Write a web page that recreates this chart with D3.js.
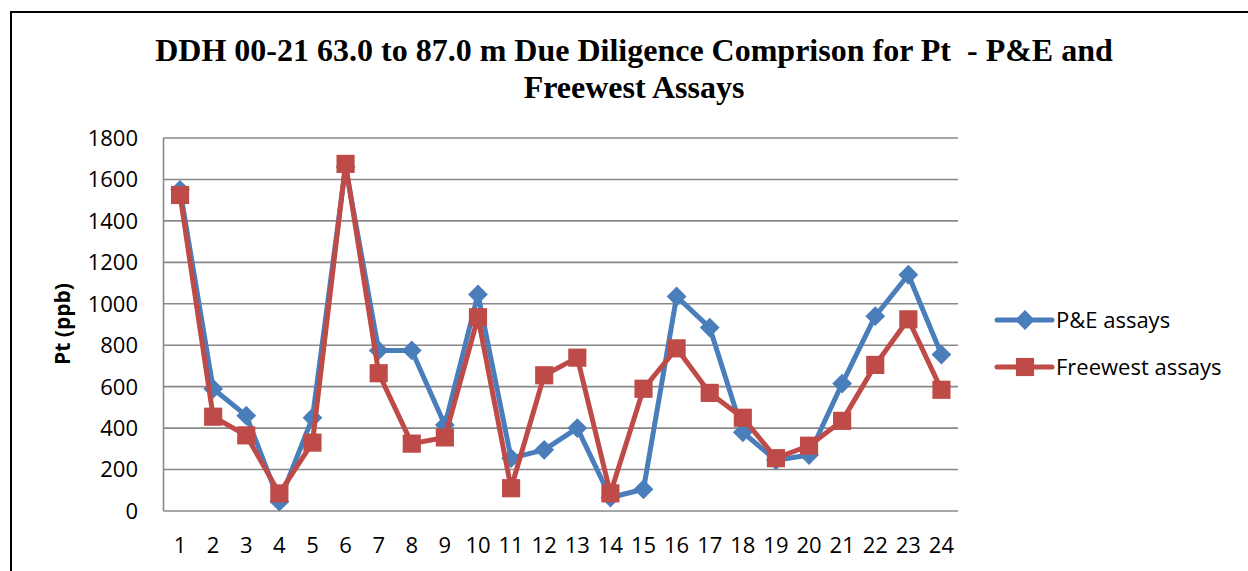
<!DOCTYPE html>
<html>
<head>
<meta charset="utf-8">
<script src="https://cdn.jsdelivr.net/npm/d3@7"></script>
<style>
  body { margin: 0; background: #fff; }
  .title { font-family: "Liberation Serif", "Times New Roman", serif; font-weight: bold; font-size: 32px; fill: #000; white-space: pre; }
  .tick-label { font-family: "Open Sans", sans-serif; font-size: 22px; fill: #000; }
  .legend-label { font-family: "Open Sans", sans-serif; font-size: 22px; fill: #000; }
  .axis-title { font-family: "Open Sans", sans-serif; font-weight: bold; font-size: 21px; fill: #000; }
</style>
</head>
<body>
<script>
// sample numbers along the hole
const samples = d3.range(1, 25);
const yTicks = [0, 200, 400, 600, 800, 1000, 1200, 1400, 1600, 1800];

// Pt values (ppb)
const peAssays = [1550, 590, 460, 45, 450, 1660, 775, 775, 415, 1045, 255, 295,
                  400, 65, 105, 1035, 885, 380, 245, 270, 615, 940, 1140, 755];
const freewestAssays = [1525, 455, 365, 85, 330, 1675, 665, 325, 355, 935, 110, 655,
                        740, 85, 590, 785, 570, 450, 255, 315, 435, 705, 925, 585];

const seriesNames = ["P&E assays", "Freewest assays"];
const titleLines = ["DDH 00-21 63.0 to 87.0 m Due Diligence Comprison for Pt  - P&E and",
                    "Freewest Assays"];

const width = 1248, height = 571;
const plot = { left: 163.5, right: 958, top: 138, bottom: 511 };

const svg = d3.select("body").append("svg")
  .attr("width", width)
  .attr("height", height);

// outer chart frame (only top and left edges are visible in the picture)
svg.append("path")
  .attr("d", `M11,${height} L11,12 L${width},12`)
  .attr("fill", "none")
  .attr("stroke", "#000")
  .attr("stroke-width", 2);

// title
svg.append("text")
  .attr("class", "title")
  .attr("text-anchor", "middle")
  .selectAll("tspan")
  .data(titleLines)
  .join("tspan")
  .attr("x", 634)
  .attr("y", (d, i) => 61 + i * 37)
  .text(d => d);

const x = d3.scaleBand().domain(samples).range([plot.left, plot.right]);
const y = d3.scaleLinear().domain([0, 1800]).range([plot.bottom, plot.top]);

// horizontal gridlines
svg.append("g")
  .selectAll("line")
  .data(yTicks)
  .join("line")
  .attr("x1", plot.left)
  .attr("x2", plot.right)
  .attr("y1", d => y(d))
  .attr("y2", d => y(d))
  .attr("stroke", "#888")
  .attr("stroke-width", 1.6);

// left axis line
svg.append("line")
  .attr("x1", plot.left).attr("x2", plot.left)
  .attr("y1", plot.top).attr("y2", plot.bottom)
  .attr("stroke", "#888")
  .attr("stroke-width", 1.6);

// y tick labels
svg.append("g")
  .selectAll("text")
  .data(yTicks)
  .join("text")
  .attr("class", "tick-label")
  .attr("x", 138)
  .attr("y", d => y(d))
  .attr("dy", "0.36em")
  .attr("text-anchor", "end")
  .text(d => d);

// x tick labels
svg.append("g")
  .selectAll("text")
  .data(samples)
  .join("text")
  .attr("class", "tick-label")
  .attr("x", d => x(d) + x.bandwidth() / 2)
  .attr("y", 553)
  .attr("text-anchor", "middle")
  .text(d => d);

// y axis title
svg.append("text")
  .attr("class", "axis-title")
  .attr("transform", "translate(70,324) rotate(-90)")
  .attr("text-anchor", "middle")
  .text("Pt (ppb)");

const cx = (d, i) => x(samples[i]) + x.bandwidth() / 2;
const line = d3.line().x(cx).y(d => y(d));

const diamond = d3.symbol().type(d3.symbolDiamond2).size(250)();
const square = d3.symbol().type(d3.symbolSquare2).size(420)();

const series = [
  { name: seriesNames[0], values: peAssays, color: "#4A7EBB", marker: diamond },
  { name: seriesNames[1], values: freewestAssays, color: "#BE4B48", marker: square }
];

series.forEach(function(s) {
  svg.append("path")
    .datum(s.values)
    .attr("d", line)
    .attr("fill", "none")
    .attr("stroke", s.color)
    .attr("stroke-width", 5)
    .attr("stroke-linejoin", "round");

  svg.append("g")
    .selectAll("path")
    .data(s.values)
    .join("path")
    .attr("d", s.marker)
    .attr("transform", (d, i) => `translate(${cx(d, i)},${y(d)})`)
    .attr("fill", s.color);
});

// legend
const legend = svg.append("g")
  .selectAll("g")
  .data(series)
  .join("g")
  .attr("transform", (d, i) => `translate(997,${320 + i * 47})`);

legend.append("line")
  .attr("x1", 0).attr("x2", 55)
  .attr("stroke", d => d.color)
  .attr("stroke-width", 5)
  .attr("stroke-linecap", "round");

legend.append("path")
  .attr("d", d => d.marker)
  .attr("transform", "translate(28,0)")
  .attr("fill", d => d.color);

legend.append("text")
  .attr("class", "legend-label")
  .attr("x", 59)
  .attr("dy", "0.36em")
  .text(d => d.name);
</script>
</body>
</html>
